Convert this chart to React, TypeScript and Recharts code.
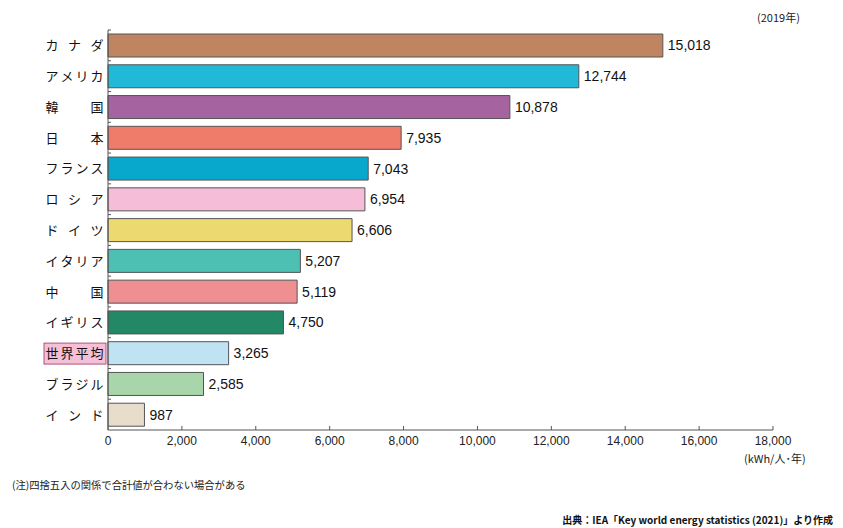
import React from "react";
import { BarChart, Bar, XAxis, YAxis, Cell, LabelList } from "recharts";

const countries = ["カナダ", "アメリカ", "韓国", "日本", "フランス", "ロシア", "ドイツ", "イタリア", "中国", "イギリス", "世界平均", "ブラジル", "インド"];
const values = [15018, 12744, 10878, 7935, 7043, 6954, 6606, 5207, 5119, 4750, 3265, 2585, 987];
const colors = ["#bf8560", "#22b9d9", "#a5649f", "#ef7b6a", "#08a8cc", "#f5bdd8", "#ecd96f", "#4dc0b3", "#ef8f91", "#238866", "#bfe3f3", "#a8d5a9", "#e8dccb"];
const xTicks = [0, 2000, 4000, 6000, 8000, 10000, 12000, 14000, 16000, 18000];

const data = countries.map((name, i) => ({ name, value: values[i] }));

const JP = "'Noto Sans CJK JP', 'Noto Sans', sans-serif";
const LAT = "'Liberation Sans', Arial, sans-serif";

const YTick = (props: any) => {
  const { x, y, payload } = props;
  const label: string = payload.value;
  const chars = label.split("");
  const left = x - 56;
  const right = x - 11;
  const n = chars.length;
  const band = 400 / 13;
  const isWorld = label === "世界平均";
  return (
    <g>
      {isWorld && (
        <rect x={x - 64} y={y - 10} width={62} height={21} fill="#f5bfd7" stroke="#a0325a" strokeWidth={0.8} />
      )}
      {chars.map((c, i) => (
        <text
          key={i}
          x={n === 1 ? (left + right) / 2 : left + ((right - left) * i) / (n - 1)}
          y={y}
          dy={5}
          textAnchor="middle"
          fontSize={13}
          fontFamily={JP}
          fill="#111"
        >
          {c}
        </text>
      ))}
      <line x1={x} x2={x + 3} y1={y - band / 2} y2={y - band / 2} stroke="#555" strokeWidth={1} />
    </g>
  );
};

const XTick = (props: any) => {
  const { x, y, payload } = props;
  return (
    <g>
      <line x1={x} x2={x} y1={y} y2={y - 4} stroke="#555" strokeWidth={1} />
      <text x={x} y={y + 15} textAnchor="middle" fontSize={12} fontFamily={LAT} fill="#222">
        {payload.value.toLocaleString("en-US")}
      </text>
    </g>
  );
};

export default function App() {
  return (
    <div style={{ position: "absolute", left: 0, top: 0, width: 843, height: 528, background: "#fff" }}>
      <BarChart
        width={843}
        height={528}
        data={data}
        layout="vertical"
        margin={{ top: 30, right: 70, bottom: 68, left: 8 }}
        barCategoryGap={0}
      >
        <XAxis
          type="number"
          domain={[0, 18000]}
          ticks={xTicks}
          interval={0}
          tickLine={false}
          tickSize={0}
          tickMargin={0}
          tick={<XTick />}
          axisLine={{ stroke: "#555" }}
          height={30}
        />
        <YAxis
          type="category"
          dataKey="name"
          width={100}
          tickLine={false}
          tickSize={0}
          tickMargin={0}
          tick={<YTick />}
          interval={0}
          axisLine={{ stroke: "#555" }}
        />
        <Bar dataKey="value" barSize={23} stroke="#555" strokeWidth={1} isAnimationActive={false}>
          {data.map((d, i) => (
            <Cell key={d.name} fill={colors[i]} />
          ))}
          <LabelList
            dataKey="value"
            position="right"
            offset={5}
            formatter={(v: any) => Number(v).toLocaleString("en-US")}
            style={{ fontSize: 14, fontFamily: LAT, fill: "#111" }}
          />
        </Bar>
      </BarChart>
      <div style={{ position: "absolute", left: 757, top: 9, fontSize: 11, fontFamily: JP, color: "#222" }}>(2019年)</div>
      <div style={{ position: "absolute", left: 744, top: 450, fontSize: 11, fontFamily: JP, color: "#222" }}>(kWh/人･年)</div>
      <div style={{ position: "absolute", left: 12, top: 477, fontSize: 10.3, fontFamily: JP, color: "#222" }}>(注)四捨五入の関係で合計値が合わない場合がある</div>
      <div style={{ position: "absolute", right: 10, top: 512, fontSize: 10, fontFamily: JP, fontWeight: 700, color: "#111" }}>出典：IEA「Key world energy statistics (2021)」より作成</div>
    </div>
  );
}
